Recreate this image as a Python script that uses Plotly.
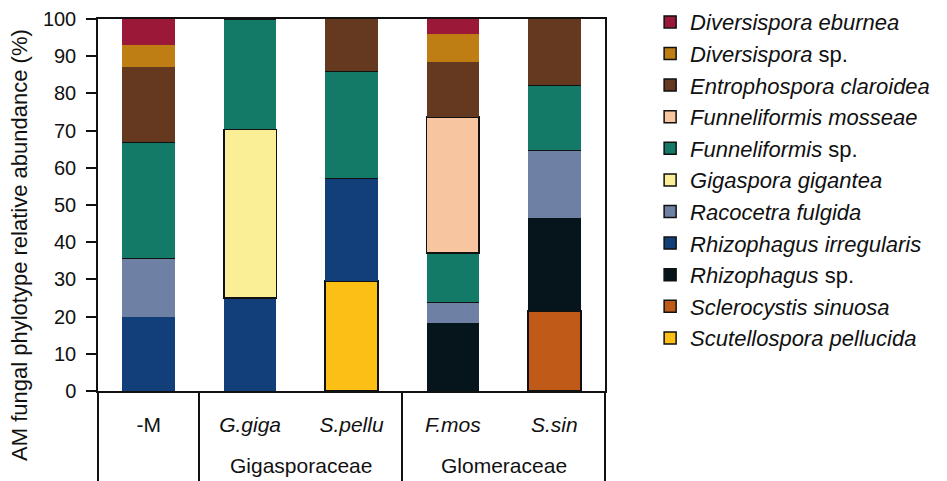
import plotly.graph_objects as go

# ---- data ----
samples = ["-M", "<i>G.giga</i>", "<i>S.pellu</i>", "<i>F.mos</i>", "<i>S.sin</i>"]
families = ["", "Gigasporaceae", "Gigasporaceae", "Glomeraceae", "Glomeraceae"]

legend_names = [
    "<i>Diversispora eburnea</i>",
    "<i>Diversispora</i> sp.",
    "<i>Entrophospora claroidea</i>",
    "<i>Funneliformis mosseae</i>",
    "<i>Funneliformis</i> sp.",
    "<i>Gigaspora gigantea</i>",
    "<i>Racocetra fulgida</i>",
    "<i>Rhizophagus irregularis</i>",
    "<i>Rhizophagus</i> sp.",
    "<i>Sclerocystis sinuosa</i>",
    "<i>Scutellospora pellucida</i>",
]
colors = [
    "#9B1838", "#BE7E14", "#653820", "#F7C6A0", "#127A66", "#FAEE96",
    "#6E80A4", "#123F7A", "#06141C", "#C05A18", "#FBBF16",
]

div_eburnea = [7.0, 0, 0, 4.1, 0]
div_sp = [5.8, 0, 0, 7.4, 0]
entro_claroidea = [20.2, 0, 13.9, 14.8, 17.7]
funn_mosseae = [0, 0, 0, 36.7, 0]
funn_sp = [31.2, 29.7, 28.8, 13.2, 17.5]
giga_gigantea = [0, 45.4, 0, 0, 0]
raco_fulgida = [15.8, 0, 0, 5.6, 18.4]
rhiz_irregularis = [20.0, 24.9, 27.7, 0, 0]
rhiz_sp = [0, 0, 0, 18.2, 24.8]
scle_sinuosa = [0, 0, 0, 0, 21.6]
scut_pellucida = [0, 0, 29.6, 0, 0]

series = [div_eburnea, div_sp, entro_claroidea, funn_mosseae, funn_sp,
          giga_gigantea, raco_fulgida, rhiz_irregularis, rhiz_sp,
          scle_sinuosa, scut_pellucida]
# inoculated species drawn with a black outline
outlined = [False, False, False, True, False, True, False, False, False, True, True]

FONT = "Liberation Sans, Arial, sans-serif"
INK = "#111111"
fig = go.Figure()

# stacked bars, bottom segment first (reverse of legend order)
for name, col, vals, ol in reversed(list(zip(legend_names, colors, series, outlined))):
    fig.add_trace(go.Bar(
        x=samples, y=vals, name=name, width=0.52,
        marker=dict(color=col, line=dict(color=INK, width=1.8 if ol else 0)),
        showlegend=False,
    ))

# legend entries (empty traces on the divider axis)
for name, col in zip(legend_names, colors):
    fig.add_trace(go.Bar(
        x=[None], y=[None], name=name, xaxis="x2",
        marker=dict(color=col, line=dict(color=INK, width=1.5)),
        showlegend=True,
    ))

# group boundaries and group label positions derived from the family list
n = len(samples)
bounds = [-0.5]
for i in range(1, n):
    if families[i] != families[i - 1]:
        bounds.append(i - 0.5)
bounds.append(n - 0.5)

annotations = []
for fam in dict.fromkeys(families):
    if not fam:
        continue
    idx = [i for i, f in enumerate(families) if f == fam]
    annotations.append(dict(
        x=sum(idx) / len(idx), xref="x", y=-0.2016, yref="paper",
        text=fam, showarrow=False, xanchor="center", yanchor="middle",
        font=dict(size=21, family=FONT, color=INK),
    ))

annotations.append(dict(
    x=-0.154, xref="paper", y=0.3925, yref="paper",
    text="AM fungal phylotype relative abundance (%)", textangle=-90,
    showarrow=False, xanchor="center", yanchor="middle",
    font=dict(size=22, family=FONT, color=INK),
))

# the page body adds an 8px offset, so the figure is 8px smaller
fig.update_layout(
    width=939, height=473,
    margin=dict(l=90, r=342, t=11, b=90, autoexpand=False),
    barmode="stack",
    plot_bgcolor="white", paper_bgcolor="white",
    font=dict(family=FONT, size=20, color=INK),
    legend=dict(x=1.089, xanchor="left", y=0.567, yanchor="middle",
                font=dict(size=22, family=FONT), traceorder="normal",
                bgcolor="rgba(0,0,0,0)"),
    annotations=annotations,
    xaxis=dict(
        type="category", range=[-0.5, n - 0.5],
        showline=True, linecolor=INK, linewidth=1.5, mirror=True,
        ticks="", showgrid=False, automargin=False,
        tickfont=dict(size=21), ticklabelstandoff=14,
    ),
    xaxis2=dict(
        overlaying="x", anchor="y", side="bottom", type="linear",
        range=[-0.5, n - 0.5], tickmode="array", tickvals=bounds,
        ticks="outside", ticklen=92, tickwidth=1.5, tickcolor=INK,
        showticklabels=False, showline=False, showgrid=False,
        zeroline=False, automargin=False,
    ),
    yaxis=dict(
        range=[0, 100], dtick=10, tickmode="linear",
        showline=True, linecolor=INK, linewidth=1.5, mirror=True,
        ticks="outside", ticklen=10, tickwidth=1.5, tickcolor=INK,
        ticklabelstandoff=6, automargin=False,
        showgrid=False, zeroline=False,
        tickfont=dict(size=20),
    ),
)

fig.write_html("out.html")
